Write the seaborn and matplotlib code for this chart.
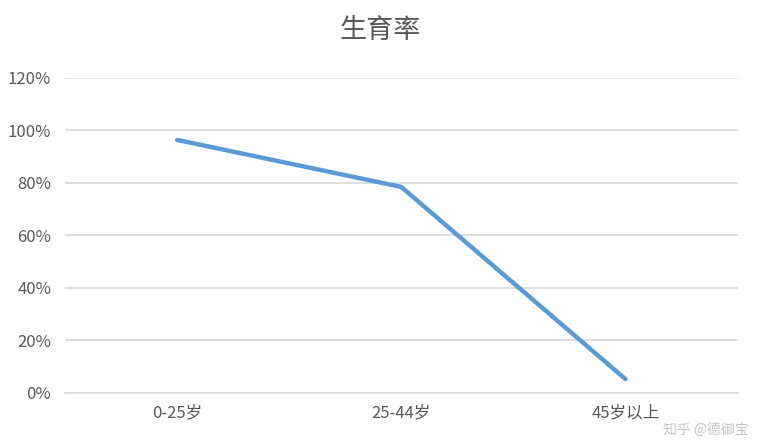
import matplotlib
matplotlib.use("Agg")
import matplotlib.pyplot as plt
import seaborn as sns
import pandas as pd
from matplotlib.ticker import FuncFormatter

categories = ["0-25岁", "25-44岁", "45岁以上"]
values = [0.964, 0.785, 0.053]
y_ticks = [0, 0.2, 0.4, 0.6, 0.8, 1.0, 1.2]

sns.set_style("white")
plt.rcParams['font.family'] = ['Noto Sans CJK SC', 'DejaVu Sans']

df = pd.DataFrame({"cat": categories, "val": values, "x": range(len(categories))})

fig = plt.figure(figsize=(7.6, 4.43), dpi=100)
ax = fig.add_axes([0.0855, 0.1129, 0.885, 0.7111])
sns.lineplot(data=df, x="x", y="val", ax=ax, color="#5B9BD5", linewidth=3.2, sort=False)
ax.set_xlim(-0.5, 2.5)
ax.set_ylim(0, 1.2)
ax.set_yticks(y_ticks)
ax.yaxis.set_major_formatter(FuncFormatter(lambda v, p: f"{v*100:.0f}%"))
ax.set_xticks(range(len(categories)))
ax.set_xticklabels(categories)
ax.grid(axis="y", color="#D9D9D9", linewidth=1.2)
ax.set_axisbelow(True)
for s in ["top", "right", "left"]:
    ax.spines[s].set_visible(False)
ax.spines["bottom"].set_color("#D9D9D9")
ax.spines["bottom"].set_linewidth(1.2)
ax.tick_params(axis="both", length=0, labelsize=12, labelcolor="#595959")
ax.tick_params(axis="y", pad=10)
ax.tick_params(axis="x", pad=8)
ax.set_xlabel("")
ax.set_ylabel("")
fig.text(0.5, 0.932, "生育率", ha="center", va="center", fontsize=19.5,
         color="#595959", fontweight="light")
fig.text(0.985, 0.03, "知乎 @德御宝", ha="right", va="center", fontsize=10,
         color="#A0A0A0", alpha=0.6)
fig.savefig("out.png", dpi=100)
